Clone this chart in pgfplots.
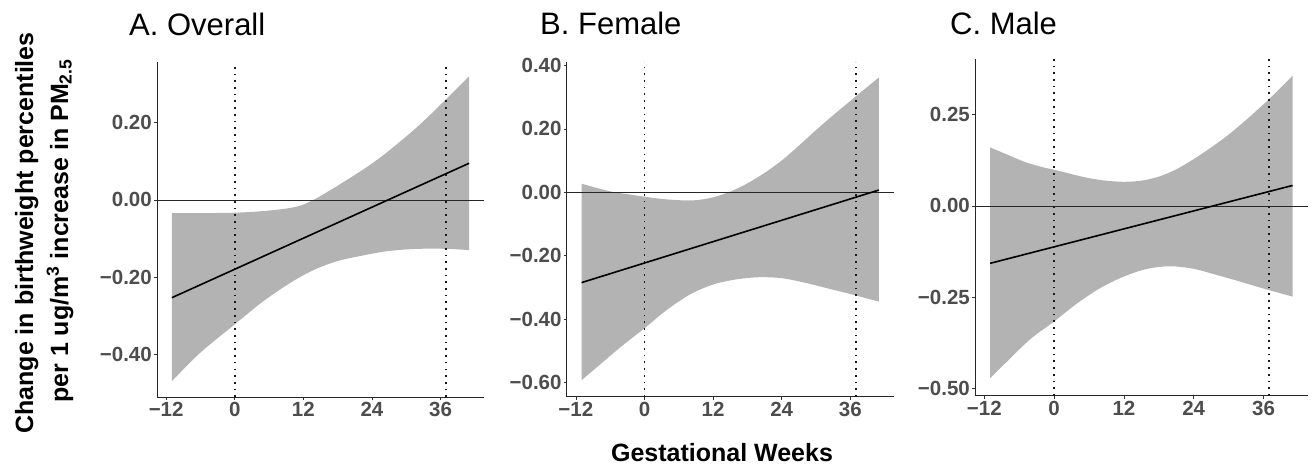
\documentclass[border=0pt]{standalone}
\usepackage{fontspec}
\setmainfont{Liberation Sans}
\usepackage{pgfplots}
\pgfplotsset{compat=1.18}
\usepgfplotslibrary{fillbetween}
\definecolor{rib}{RGB}{179,179,179}
\definecolor{ticklab}{RGB}{77,77,77}
\pgfplotsset{
  panel/.style={
    scale only axis, width=327pt, height=335pt,
    axis lines=left, axis line style={-, draw=black!85, line width=0.7pt},
    xmin=-13.6, xmax=43.6,
    xtick={-12,0,12,24,36}, xticklabels={−12,0,12,24,36},
    tick align=outside, major tick length=3pt,
    tick style={draw=black!80, line width=0.6pt},
    minor tick num=0,
    ticklabel style={font=\bfseries\fontsize{20.5}{23}\selectfont, text=ticklab},
    xticklabel style={inner sep=1pt, yshift=-1pt},
    yticklabel style={inner sep=2pt},
    clip=false,
  },
  ribbon/.style={draw=none, smooth, tension=0.5, forget plot},
  dotv/.style={black!90, line width=1.7pt, dash pattern=on 1.7pt off 5pt},
  zeroh/.style={black!85, line width=0.8pt},
  fitline/.style={black, line width=1.6pt},
}
\begin{document}
\begin{tikzpicture}
% ---------------- Panel A
\begin{axis}[panel, at={(157pt,69pt)}, anchor=south west,
  ymin=-0.51, ymax=0.357,
  ytick={-0.4,-0.2,0,0.2}, yticklabels={−0.40,−0.20,0.00,0.20}]
\addplot[ribbon, name path=Au] coordinates {
(-11,-0.034) (-5,-0.034) (0,-0.033) (4,-0.030) (7,-0.026) (10,-0.020) (12,-0.012)
(14,0.002) (16,0.019) (19,0.046) (23,0.084) (26,0.116) (29,0.152) (32,0.190)
(35,0.232) (38,0.276) (41,0.320)};
\addplot[ribbon, name path=Al] coordinates {
(-11,-0.469) (-6,-0.395) (0,-0.322) (5,-0.262) (10,-0.212) (14,-0.180) (18,-0.158)
(22,-0.145) (26,-0.134) (30,-0.128) (34,-0.126) (38,-0.127) (41,-0.130)};
\addplot[fill=rib, draw=none] fill between[of=Au and Al];
\addplot[zeroh] coordinates {(-13.6,0) (43.6,0)};
\addplot[dotv] coordinates {(0,-0.51) (0,0.357)};
\addplot[dotv] coordinates {(37,-0.51) (37,0.357)};
\addplot[fitline] coordinates {(-11,-0.253) (41,0.095)};
\end{axis}
% ---------------- Panel B
\begin{axis}[panel, at={(566.7pt,69.3pt)}, anchor=south west,
  ymin=-0.645, ymax=0.412,
  ytick={-0.6,-0.4,-0.2,0,0.2,0.4}, yticklabels={−0.60,−0.40,−0.20,0.00,0.20,0.40}]
\addplot[ribbon, name path=Bu] coordinates {
(-11,0.027) (-8,0.012) (-5.5,0.001) (-3,-0.006) (0,-0.014) (3,-0.021) (6,-0.025)
(9,-0.025) (12,-0.016) (15,0.002) (18,0.028) (21,0.061) (24,0.100) (27,0.147)
(30,0.196) (33,0.243) (36,0.288) (38,0.318) (41,0.362)};
\addplot[ribbon, name path=Bl] coordinates {
(-11,-0.593) (-8,-0.547) (-4,-0.486) (0,-0.429) (4,-0.370) (8,-0.322) (12,-0.291)
(16,-0.275) (20,-0.268) (24,-0.271) (28,-0.285) (32,-0.303) (36,-0.321) (41,-0.345)};
\addplot[fill=rib, draw=none] fill between[of=Bu and Bl];
\addplot[zeroh] coordinates {(-13.6,0) (43.6,0)};
\addplot[dotv] coordinates {(0,-0.645) (0,0.412)};
\addplot[dotv] coordinates {(37,-0.645) (37,0.412)};
\addplot[fitline] coordinates {(-11,-0.285) (41,0.007)};
\end{axis}
% ---------------- Panel C
\begin{axis}[panel, at={(975pt,70.3pt)}, anchor=south west, width=332.7pt, height=336.4pt,
  ymin=-0.519, ymax=0.401,
  ytick={-0.5,-0.25,0,0.25}, yticklabels={−0.50,−0.25,0.00,0.25}]
\addplot[ribbon, name path=Cu] coordinates {
(-11,0.160) (-8,0.140) (-5,0.120) (-2,0.106) (0,0.099) (3,0.087) (6,0.076) (9,0.069)
(12,0.066) (15,0.069) (18,0.080) (21,0.100) (24,0.128) (27,0.160) (30,0.195)
(33,0.235) (36,0.278) (38,0.308) (41,0.356)};
\addplot[ribbon, name path=Cl] coordinates {
(-11,-0.471) (-8,-0.424) (-4,-0.363) (0,-0.316) (4,-0.266) (8,-0.224) (12,-0.193)
(16,-0.172) (20,-0.165) (24,-0.172) (28,-0.189) (32,-0.207) (36,-0.226) (41,-0.248)};
\addplot[fill=rib, draw=none] fill between[of=Cu and Cl];
\addplot[zeroh] coordinates {(-13.6,0) (43.6,0)};
\addplot[dotv] coordinates {(0,-0.519) (0,0.401)};
\addplot[dotv] coordinates {(37,-0.519) (37,0.401)};
\addplot[fitline] coordinates {(-11,-0.157) (41,0.056)};
\end{axis}
% ---------------- Titles and labels
\node[anchor=base west, inner sep=0, font=\fontsize{31}{34}\selectfont] at (129pt,430pt) {A. Overall};
\node[anchor=base west, inner sep=0, font=\fontsize{31}{34}\selectfont] at (540pt,431pt) {B. Female};
\node[anchor=base west, inner sep=0, font=\fontsize{31}{34}\selectfont] at (950pt,431pt) {C. Male};
\node[anchor=base, inner sep=0, font=\bfseries\fontsize{25}{28}\selectfont] at (722pt,5pt) {Gestational Weeks};
\node[anchor=base, inner sep=0, rotate=90, font=\bfseries\fontsize{25}{28}\selectfont] at (33pt,233pt) {Change in birthweight percentiles};
\node[anchor=base, inner sep=0, rotate=90, font=\bfseries\fontsize{25}{28}\selectfont] at (68pt,235pt) {per 1 ug/m\textsuperscript{3} increase in PM\textsubscript{2.5}};
\pgfresetboundingbox
\path[use as bounding box] (0pt,0pt) rectangle (1314pt,466pt);
\end{tikzpicture}
\end{document}
